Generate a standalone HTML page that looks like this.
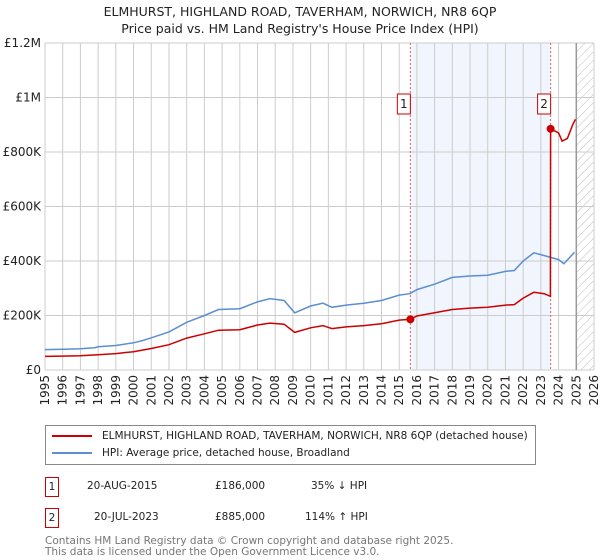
<!DOCTYPE html>
<html><head><meta charset="utf-8"><style>
body{margin:0;width:600px;height:560px;background:#fff;font-family:"DejaVu Sans","Liberation Sans",sans-serif;overflow:hidden;position:relative}
.t{position:absolute;white-space:nowrap}
</style></head><body>
<div class="t" style="left:0;width:600px;text-align:center;top:3px;font-size:12.5px;line-height:17px;color:#222">ELMHURST, HIGHLAND ROAD, TAVERHAM, NORWICH, NR8 6QP<br>Price paid vs. HM Land Registry's House Price Index (HPI)</div>
<svg id="chart" width="600" height="420" style="position:absolute;left:0;top:0" font-family="DejaVu Sans, Liberation Sans, sans-serif"></svg>
<div style="position:absolute;left:45px;top:425px;width:489px;height:38px;border:1px solid #888;font-size:10.5px;color:#222">
 <div style="position:absolute;left:6px;top:4px"><span style="display:inline-block;width:40px;height:2px;background:#cc0000;vertical-align:middle;margin-right:10px"></span>ELMHURST, HIGHLAND ROAD, TAVERHAM, NORWICH, NR8 6QP (detached house)</div>
 <div style="position:absolute;left:6px;top:21px"><span style="display:inline-block;width:40px;height:2px;background:#5b8fd0;vertical-align:middle;margin-right:10px"></span>HPI: Average price, detached house, Broadland</div>
</div>
<div style="position:absolute;left:45px;top:477px;font-size:10.5px;color:#222">
 <span class="t" style="left:0;top:0;border:1px solid #c00;width:12px;height:18px;line-height:18px;text-align:center">1</span>
 <span class="t" style="left:42px;top:3px">20-AUG-2015</span><span class="t" style="left:170px;top:3px">£186,000</span><span class="t" style="left:266px;top:3px">35% ↓ HPI</span></div>
<div style="position:absolute;left:45px;top:508px;font-size:10.5px;color:#222">
 <span class="t" style="left:0;top:0;border:1px solid #c00;width:12px;height:18px;line-height:18px;text-align:center">2</span>
 <span class="t" style="left:49px;top:3px">20-JUL-2023</span><span class="t" style="left:170px;top:3px">£885,000</span><span class="t" style="left:260px;top:3px">114% ↑ HPI</span></div>
<div class="t" style="left:45px;top:536px;font-size:10.5px;line-height:11px;color:#777">Contains HM Land Registry data © Crown copyright and database right 2025.<br>This data is licensed under the Open Government Licence v3.0.</div>
<script>
const hpiYears=[1995,1996,1997,1997.8,1998,1999,2000,2000.5,2001,2002,2003,2004,2004.8,2006,2007,2007.7,2008.5,2009.1,2010,2010.7,2011.2,2012,2013,2014,2015,2015.6,2016,2017,2018,2019,2020,2021,2021.5,2022,2022.6,2023.2,2024,2024.3,2024.9];
const hpiValues=[75000,76000,78000,82000,85000,90000,100000,108000,118000,140000,175000,200000,222000,225000,250000,262000,255000,210000,235000,245000,230000,238000,245000,255000,275000,280000,295000,315000,340000,345000,348000,362000,365000,400000,430000,420000,405000,390000,432000];
const priceYears=[1995,1996,1997,1998,1999,2000,2001,2002,2003,2004,2004.8,2006,2007,2007.7,2008.5,2009.1,2010,2010.7,2011.2,2012,2013,2014,2015,2015.63,2016,2017,2018,2019,2020,2021,2021.5,2022,2022.6,2023.2,2023.54,2023.55,2023.7,2024,2024.2,2024.5,2024.8,2024.95];
const priceValues=[50000,51000,52000,56000,60000,67000,79000,93000,117000,133000,146000,148000,165000,172000,168000,138000,155000,163000,152000,158000,163000,170000,183000,186000,198000,210000,222000,227000,230000,238000,240000,264000,285000,280000,270000,885000,880000,870000,840000,850000,900000,920000];
const sales=[{label:"1",year:2015.63,value:186000},{label:"2",year:2023.55,value:885000}];
const yTicks=[0,200000,400000,600000,800000,1000000,1200000];
const yTickLabels=["£0","£200K","£400K","£600K","£800K","£1M","£1.2M"];
const xTicks=[1995,1996,1997,1998,1999,2000,2001,2002,2003,2004,2005,2006,2007,2008,2009,2010,2011,2012,2013,2014,2015,2016,2017,2018,2019,2020,2021,2022,2023,2024,2025,2026];
const X0=45,X1=594,Y0=370,Y1=43;
const x=y=>X0+(y-1995)/(2026-1995)*(X1-X0);
const yS=v=>Y0-v/1200000*(Y0-Y1);
const svg=document.getElementById('chart');const NS='http://www.w3.org/2000/svg';
function mk(t,a,p){const e=document.createElementNS(NS,t);for(const k in a)e.setAttribute(k,a[k]);(p||svg).appendChild(e);return e;}
const defs=mk('defs',{});const pat=mk('pattern',{id:'hatch',width:6,height:6,patternUnits:'userSpaceOnUse',patternTransform:'rotate(45)'},defs);mk('line',{x1:0,y1:0,x2:0,y2:6,stroke:'#bbb','stroke-width':1},pat);
let e=mk('rect',{x:x(sales[0].year),y:Y1,width:x(sales[1].year)-x(sales[0].year),height:Y0-Y1,fill:'#eef3fc',opacity:0.8});


e=mk('rect',{x:x(2025),y:Y1,width:X1-x(2025),height:Y0-Y1,fill:'url(#hatch)'});


xTicks.forEach(t=>{const l=mk('line',{x1:x(t),x2:x(t),y1:Y1,y2:Y0,stroke:'#ccc'});


const px=x(t)+4,py=Y0+5;
const tx=mk('text',{x:px,y:py,'font-size':12,fill:'#222','text-anchor':'end',transform:'rotate(-90 '+px+' '+py+')'});tx.textContent=t;

});
yTicks.forEach((t,i)=>{const l=mk('line',{x1:X0,x2:X1,y1:yS(t),y2:yS(t),stroke:'#ccc'});


const tx=mk('text',{x:X0-4,y:yS(t)+4,'font-size':12,fill:'#222','text-anchor':'end'});tx.textContent=yTickLabels[i];

});
e=mk('line',{x1:x(2025),x2:x(2025),y1:Y1,y2:Y0,stroke:'#999','stroke-width':1.5});


sales.forEach(s=>{const l=mk('line',{x1:x(s.year),x2:x(s.year),y1:Y1,y2:Y0,stroke:'#e06060','stroke-dasharray':'2,2','stroke-width':1});

});
const pts=(xs,vs)=>xs.map((v,i)=>x(v).toFixed(1)+','+yS(vs[i]).toFixed(1)).join(' ');
e=mk('polyline',{points:pts(hpiYears,hpiValues),fill:'none',stroke:'#5b8fd0','stroke-width':1.5});


e=mk('polyline',{points:pts(priceYears,priceValues),fill:'none',stroke:'#cc0000','stroke-width':1.5});


sales.forEach(s=>{const c=mk('circle',{cx:x(s.year),cy:yS(s.value),r:4,fill:'#cc0000'});


const g=mk('g',{});

mk('rect',{x:x(s.year)-13,y:94,width:13,height:20,fill:'#fff',stroke:'#cc0000'},g);
const tx=mk('text',{x:x(s.year)-6.5,y:108,'font-size':12,fill:'#222','text-anchor':'middle'},g);tx.textContent=s.label;});
</script>
</body></html>
